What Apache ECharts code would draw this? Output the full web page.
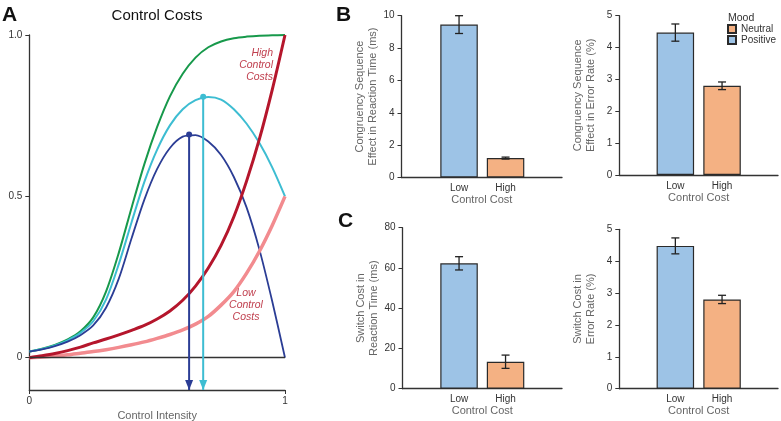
<!DOCTYPE html>
<html><head><meta charset="utf-8">
<script src="https://cdn.jsdelivr.net/npm/echarts@6/dist/echarts.min.js"></script>
<style>html,body{margin:0;padding:0;background:#fff}#c{width:781px;height:421px}</style>
</head><body><div id="c"></div>
<script>
const FONT = '"Liberation Sans", Arial, Helvetica, sans-serif';

// ---- Panel A: conceptual curves ----
const intensity   = [0,0.05,0.1,0.15,0.2,0.25,0.3,0.35,0.4,0.45,0.5,0.55,0.6,0.65,0.7,0.75,0.8,0.85,0.9,0.95,1];
const benefit     = [0.019,0.028,0.04,0.057,0.082,0.125,0.205,0.325,0.465,0.6,0.715,0.81,0.88,0.93,0.962,0.98,0.99,0.995,0.998,0.999,1.0];
const valueLow    = [0.019,0.027,0.038,0.054,0.077,0.113,0.18,0.29,0.42,0.545,0.645,0.72,0.77,0.798,0.808,0.8,0.77,0.725,0.665,0.59,0.5];
const valueHigh   = [0.019,0.026,0.036,0.05,0.07,0.10,0.155,0.245,0.37,0.49,0.585,0.65,0.685,0.69,0.67,0.628,0.56,0.465,0.335,0.175,0];
const costHigh    = [0,0.006,0.013,0.022,0.033,0.046,0.058,0.071,0.085,0.1,0.12,0.145,0.178,0.222,0.278,0.348,0.437,0.548,0.678,0.83,1.0];
const costLow     = [0,0.002,0.005,0.009,0.014,0.019,0.025,0.032,0.04,0.049,0.06,0.072,0.086,0.104,0.128,0.163,0.205,0.262,0.33,0.41,0.5];
const optimumLow  = [0.68, 0.809];   // peak of low-cost value curve
const optimumHigh = [0.625, 0.692];  // peak of high-cost value curve
const aYMin = -0.1, aYMax = 1.0;
const aYTicks = [0, 0.5, 1.0];
const aXTicks = [0, 1];

// ---- Panels B & C: bar data ----
const costCats   = ['Low', 'High'];
const moodOfCat  = ['Positive', 'Neutral'];
const moodLegend = ['Neutral', 'Positive'];
const csRTMean = [9.45, 1.2];  const csRTErr = [0.55, 0.06];
const csERMean = [4.47, 2.8];  const csERErr = [0.27, 0.12];
const scRTMean = [62.3, 13.4]; const scRTErr = [3.3, 3.3];
const scERMean = [4.48, 2.8];  const scERErr = [0.25, 0.13];

const moodColor = { Positive: '#9dc3e6', Neutral: '#f4b183' };

const panels = [
  {mean: csRTMean, err: csRTErr, max: 10, interval: 2, name: 'Congruency Sequence\nEffect in Reaction Time (ms)',
   frame: {left: 401.5, top: 15.7, width: 160.5, height: 161.8}, bars: {left: 435.8, width: 93}},
  {mean: csERMean, err: csERErr, max: 5, interval: 1, name: 'Congruency Sequence\nEffect in Error Rate (%)',
   frame: {left: 619.3, top: 15.7, width: 158.7, height: 159.3}, bars: {left: 652, width: 93.4}},
  {mean: scRTMean, err: scRTErr, max: 80, interval: 20, name: 'Switch Cost in\nReaction Time (ms)',
   frame: {left: 402.5, top: 227.7, width: 159.5, height: 161}, bars: {left: 435.8, width: 93}},
  {mean: scERMean, err: scERErr, max: 5, interval: 1, name: 'Switch Cost in\nError Rate (%)',
   frame: {left: 619.3, top: 229.3, width: 158.7, height: 159.4}, bars: {left: 652, width: 93.4}}
];

const AX = '#333';
const grids = [{left: 29.3, top: 35, width: 255.7, height: 355, outerBoundsMode: 'none', containLabel: false}];
const xAxes = [{
  gridIndex: 0, type: 'value', min: 0, max: 1,
  axisLine: {onZero: false, lineStyle: {color: AX, width: 1.3}},
  axisTick: {customValues: aXTicks, length: 4, lineStyle: {color: AX}},
  axisLabel: {customValues: aXTicks, fontSize: 10, color: '#333', margin: 6, fontFamily: FONT},
  splitLine: {show: false},
  name: 'Control Intensity', nameLocation: 'middle', nameGap: 17,
  nameTextStyle: {fontSize: 11, color: '#666', fontFamily: FONT}
}];
const yAxes = [{
  gridIndex: 0, type: 'value', min: aYMin, max: aYMax,
  axisLine: {show: true, onZero: false, lineStyle: {color: AX, width: 1.3}},
  axisTick: {show: true, customValues: aYTicks, length: 4, lineStyle: {color: AX}},
  axisLabel: {customValues: aYTicks, fontSize: 10, color: '#333', margin: 7, fontFamily: FONT,
    formatter: v => v === 0 ? '0' : v.toFixed(1)},
  splitLine: {show: false}
}];

function lineData(ys) { return intensity.map((x, i) => [x, ys[i]]); }
function curve(name, ys, color, width) {
  return {type: 'line', name, xAxisIndex: 0, yAxisIndex: 0, data: lineData(ys), smooth: 0.3,
    showSymbol: false, symbol: 'none', lineStyle: {color, width}, silent: true};
}
function optArrow(pt, color) {
  return {type: 'line', xAxisIndex: 0, yAxisIndex: 0, silent: true, z: 5,
    lineStyle: {color, width: 2}, itemStyle: {color},
    data: [
      {value: [pt[0], pt[1]], symbol: 'circle', symbolSize: 6},
      {value: [pt[0], aYMin], symbol: 'triangle', symbolSize: [8, 10], symbolRotate: 180, symbolOffset: [0, -5]}
    ]};
}

const series = [
  Object.assign(curve('benefit', benefit, '#17994b', 2), {
    markLine: {silent: true, symbol: 'none', label: {show: false},
      lineStyle: {color: AX, width: 1.3, type: 'solid'}, data: [{yAxis: 0}]}
  }),
  curve('valueLow', valueLow, '#3dbdd2', 2),
  curve('valueHigh', valueHigh, '#2b3d95', 1.8),
  curve('costLow', costLow, '#f28b8f', 3.5),
  curve('costHigh', costHigh, '#b5162c', 3),
  optArrow(optimumHigh, '#2b3d95'),
  optArrow(optimumLow, '#3dbdd2')
];

function errorRender(params, api) {
  const x = api.value(0), m = api.value(1), e = api.value(2);
  const t = api.coord([x, m + e]), b = api.coord([x, m - e]);
  const hw = 4, st = {stroke: '#222', lineWidth: 1.3};
  return {type: 'group', children: [
    {type: 'line', shape: {x1: t[0], y1: t[1], x2: b[0], y2: b[1]}, style: st},
    {type: 'line', shape: {x1: t[0] - hw, y1: t[1], x2: t[0] + hw, y2: t[1]}, style: st},
    {type: 'line', shape: {x1: b[0] - hw, y1: b[1], x2: b[0] + hw, y2: b[1]}, style: st}
  ]};
}

panels.forEach((p, k) => {
  const fi = 1 + 2 * k, bi = 2 + 2 * k;
  grids.push({left: p.frame.left, top: p.frame.top, width: p.frame.width, height: p.frame.height,
    outerBoundsMode: 'none', containLabel: false});
  grids.push({left: p.bars.left, top: p.frame.top, width: p.bars.width, height: p.frame.height,
    outerBoundsMode: 'none', containLabel: false});
  xAxes.push({gridIndex: fi, type: 'value', min: 0, max: 1,
    axisLine: {onZero: false, lineStyle: {color: AX, width: 1.3}}, axisTick: {show: false}, axisLabel: {show: false},
    splitLine: {show: false},
    name: 'Control Cost', nameLocation: 'middle', nameGap: 17,
    nameTextStyle: {fontSize: 11, color: '#666', fontFamily: FONT}});
  yAxes.push({gridIndex: fi, type: 'value', min: 0, max: p.max, interval: p.interval,
    axisLine: {show: true, onZero: false, lineStyle: {color: AX, width: 1.3}},
    axisTick: {show: true, length: 4, lineStyle: {color: AX}},
    axisLabel: {fontSize: 10, color: '#333', margin: 7, fontFamily: FONT},
    splitLine: {show: false},
    name: p.name, nameLocation: 'middle', nameGap: 22,
    nameTextStyle: {fontSize: 11, color: '#666', lineHeight: 13, fontFamily: FONT}});
  xAxes.push({gridIndex: bi, type: 'category', data: costCats,
    axisLine: {show: false}, axisTick: {show: false},
    axisLabel: {fontSize: 10, color: '#333', margin: 6, fontFamily: FONT}});
  yAxes.push({gridIndex: bi, type: 'value', min: 0, max: p.max, show: false});
  ['Positive', 'Neutral'].forEach(m => {
    series.push({type: 'bar', name: m, xAxisIndex: bi, yAxisIndex: bi, barWidth: 37.5, barGap: '-100%',
      data: costCats.map((c, i) => moodOfCat[i] === m ? p.mean[i] : '-'),
      itemStyle: {color: moodColor[m], borderColor: '#2a2a2a', borderWidth: 1.2}, silent: true});
  });
  series.push({type: 'custom', xAxisIndex: bi, yAxisIndex: bi, z: 4, silent: true,
    data: p.mean.map((m, i) => [i, m, p.err[i]]), encode: {x: 0, y: 1}, renderItem: errorRender});
});

function txt(text, x, y, font, fill, align, vAlign, lh) {
  return {type: 'text', x, y, silent: true,
    style: {text, font, fill, align: align || 'left', verticalAlign: vAlign || 'middle', lineHeight: lh}};
}

const option = {
  animation: false,
  backgroundColor: '#fff',
  textStyle: {fontFamily: FONT},
  grid: grids, xAxis: xAxes, yAxis: yAxes, series,
  legend: {data: moodLegend, orient: 'vertical', left: 727, top: 24, padding: 0, itemWidth: 8, itemHeight: 8,
    itemGap: 1, icon: 'rect', textStyle: {fontSize: 10, color: '#333', fontFamily: FONT},
    selectedMode: false},
  graphic: [
    txt('A', 2, 15, 'bold 21px ' + FONT, '#111'),
    txt('B', 336, 15, 'bold 21px ' + FONT, '#111'),
    txt('C', 338, 221, 'bold 21px ' + FONT, '#111'),
    txt('Control Costs', 157, 16, '15px ' + FONT, '#111', 'center'),
    txt('Mood', 728, 18, '10.5px ' + FONT, '#333'),
    txt('High\nControl\nCosts', 273, 47, 'italic 10.5px ' + FONT, '#c0404f', 'right', 'top', 12),
    txt('Low\nControl\nCosts', 246, 287, 'italic 10.5px ' + FONT, '#c0404f', 'center', 'top', 12)
  ]
};
const chart = echarts.init(document.getElementById('c'), null, {renderer: 'canvas'});
chart.setOption(option);
</script></body></html>
